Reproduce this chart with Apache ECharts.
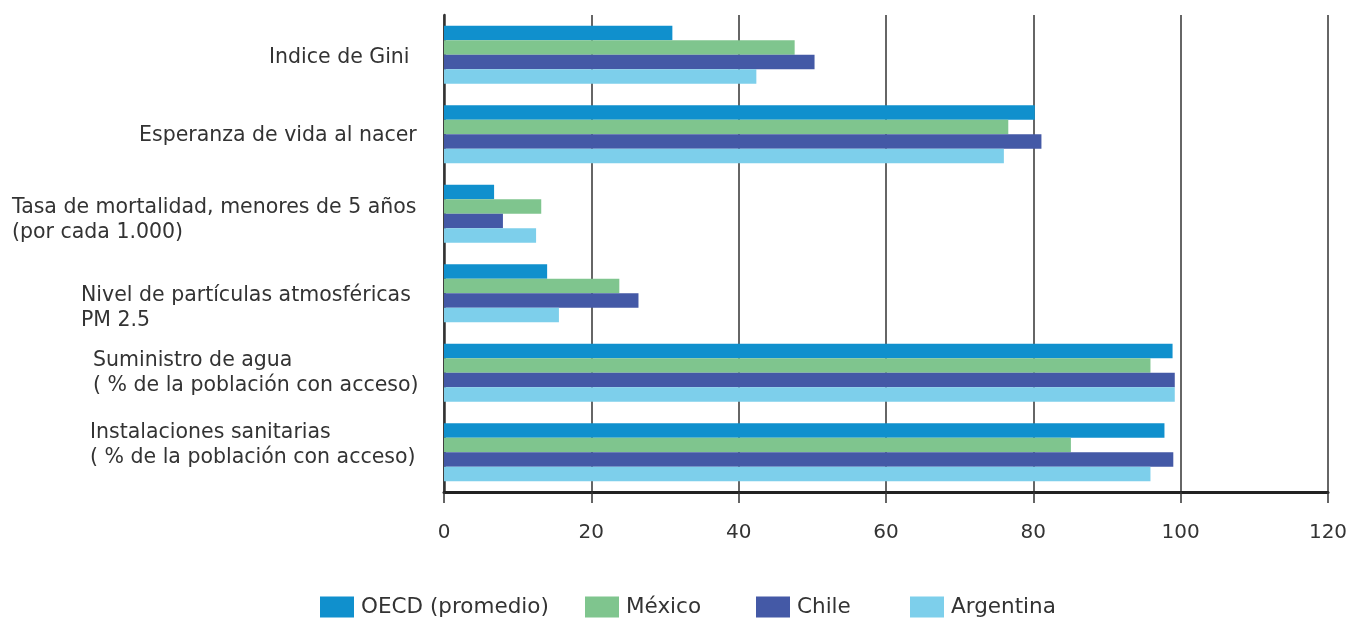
<!DOCTYPE html>
<html>
<head>
<meta charset="utf-8">
<style>
  html, body { margin: 0; padding: 0; background: #ffffff; }
  #chart { width: 1348px; height: 618px; }
</style>
<script src="https://cdn.jsdelivr.net/npm/echarts@6/dist/echarts.min.js"></script>
</head>
<body>
<div id="chart"></div>
<script>
// Indicator categories, top to bottom
const categories = [
  'Indice de Gini',
  'Esperanza de vida al nacer',
  'Tasa de mortalidad, menores de 5 años\n(por cada 1.000)',
  'Nivel de partículas atmosféricas\nPM 2.5',
  'Suministro de agua\n( % de la población con acceso)',
  'Instalaciones sanitarias\n( % de la población con acceso)'
];

// Values per country, same order as categories
const oecd      = [31.0, 80.2, 6.8, 14.0, 98.9, 97.8];
const mexico    = [47.6, 76.6, 13.2, 23.8, 95.9, 85.1];
const chile     = [50.3, 81.1, 8.0, 26.4, 99.2, 99.0];
const argentina = [42.4, 76.0, 12.5, 15.6, 99.2, 95.9];

const seriesNames = ['OECD (promedio)', 'México', 'Chile', 'Argentina'];
const seriesData = [oecd, mexico, chile, argentina];
const seriesColors = ['#1090cd', '#7fc58e', '#4459a6', '#7dcfeb'];

// Value axis ticks
const xTicks = { min: 0, max: 120, interval: 20 };

// Per-label offsets for the left-hand category labels [top, right, bottom, left]
const labelPadding = [
  [6, 0, 0, 257],
  [2, 0, 0, 127],
  [13, 0, 0, 0],
  [30, 0, 0, 69],
  [0, 0, 0, 81],
  [0, 0, 15, 78]
];

const FONT = '"DejaVu Sans", sans-serif';
const TEXT = '#333333';

const labelFont = { fontFamily: FONT, fontSize: 20.5, lineHeight: 25, color: TEXT };

const chart = echarts.init(document.getElementById('chart'));

const legendLefts = [320, 585, 756, 910];

chart.setOption({
  animation: false,
  backgroundColor: '#ffffff',
  grid: {
    left: 444, right: 20, top: 15, bottom: 126,
    containLabel: false,
    outerBoundsMode: 'none'
  },
  legend: seriesNames.map((name, i) => ({
    data: [name],
    left: legendLefts[i],
    top: 596,
    padding: 0,
    itemWidth: 34,
    itemHeight: 21,
    icon: 'rect',
    selectedMode: false,
    textStyle: { fontFamily: FONT, fontSize: 21.5, color: TEXT, padding: [4, 0, 0, 2] }
  })),
  xAxis: {
    type: 'value',
    min: xTicks.min,
    max: xTicks.max,
    interval: xTicks.interval,
    axisLine: { show: true, lineStyle: { color: '#222222', width: 3 } },
    axisTick: { show: true, length: 11, lineStyle: { color: '#333333', width: 1.5 } },
    splitLine: { show: true, lineStyle: { color: '#333333', width: 1.5 } },
    axisLabel: { margin: 31, fontFamily: FONT, fontSize: 20, color: TEXT }
  },
  yAxis: {
    type: 'category',
    inverse: true,
    data: categories.map((c, i) => ({
      value: c,
      textStyle: Object.assign({
        align: 'left',
        verticalAlign: 'middle',
        padding: labelPadding[i],
        rich: { t: labelFont }
      }, labelFont)
    })),
    axisLine: { show: true, lineStyle: { color: '#333333', width: 2.5 } },
    axisTick: { show: false },
    splitLine: { show: false },
    axisLabel: Object.assign({
      interval: 0,
      align: 'left',
      margin: 432,
      rich: { t: labelFont }
    }, labelFont)
  },
  series: seriesNames.map((name, i) => ({
    name: name,
    type: 'bar',
    data: seriesData[i],
    barGap: '0%',
    barCategoryGap: '27%',
    itemStyle: { color: seriesColors[i] },
    emphasis: { disabled: true }
  }))
});
</script>
</body>
</html>
